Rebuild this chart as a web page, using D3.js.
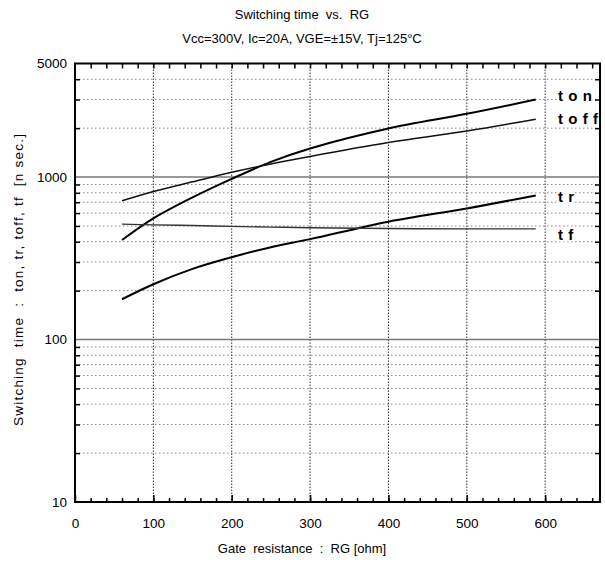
<!DOCTYPE html>
<html>
<head>
<meta charset="utf-8">
<script src="https://cdn.jsdelivr.net/npm/d3@7"></script>
<style>
  body { margin: 0; background: #fff; }
  svg { font-family: "Liberation Sans", Arial, sans-serif; }
</style>
</head>
<body>
<svg width="605" height="565"></svg>
<script>
// gate resistance [ohm] and switching times [ns]
var rg   = [60, 100, 150, 200, 250, 300, 400, 500, 588];
var ton  = [410, 557, 750, 975, 1240, 1500, 1990, 2450, 3000];
var toff = [714, 815, 935, 1070, 1205, 1340, 1630, 1920, 2270];
var tr   = [177, 219, 272, 321, 370, 415, 531, 641, 771];
var tf   = [513, 508, 503, 497, 492, 488, 482, 480, 480];

var xTicks = [0, 100, 200, 300, 400, 500, 600];
var yTicks = [10, 100, 1000, 5000];
var names  = ["ton", "toff", "tr", "tf"];

var svg = d3.select("svg");
var pLeft = 75, pRight = 600, pTop = 63.5, pBottom = 502;

var x = d3.scaleLinear().domain([0, 670]).range([pLeft, pRight]);
var y = d3.scaleLog().domain([10, 5000]).range([pBottom, pTop]);

// minor log values
var minorY = [];
[10, 100, 1000].forEach(function(d) {
    for (var k = 2; k <= 9; k++) {
        if (d * k < 5000) minorY.push(d * k);
    }
});
var minorX = d3.range(20, 670, 20);

// dotted grid
svg.append("g").selectAll("line").data(minorY).enter().append("line")
    .attr("x1", pLeft).attr("x2", pRight)
    .attr("y1", function(d) { return y(d); }).attr("y2", function(d) { return y(d); })
    .attr("stroke", "#888").attr("stroke-width", 1).attr("stroke-dasharray", "1.5,2.5");
svg.append("g").selectAll("line").data(xTicks.slice(1)).enter().append("line")
    .attr("x1", function(d) { return x(d); }).attr("x2", function(d) { return x(d); })
    .attr("y1", pTop).attr("y2", pBottom)
    .attr("stroke", "#333").attr("stroke-width", 1).attr("stroke-dasharray", "1.5,1.5");
// solid decade lines
svg.append("g").selectAll("line").data([100, 1000]).enter().append("line")
    .attr("x1", pLeft).attr("x2", pRight)
    .attr("y1", function(d) { return y(d); }).attr("y2", function(d) { return y(d); })
    .attr("stroke", "#777").attr("stroke-width", 1.6);

// curves
var line = d3.line().curve(d3.curveCatmullRom.alpha(0.5))
    .x(function(d) { return x(d[0]); })
    .y(function(d) { return y(d[1]); });
var series = [ton, toff, tr, tf];
var widths = [2, 1.5, 2, 1.4];
var colors = ["#000", "#111", "#000", "#333"];
series.forEach(function(s, i) {
    svg.append("path")
        .datum(rg.map(function(r, j) { return [r, s[j]]; }))
        .attr("fill", "none")
        .attr("stroke", colors[i])
        .attr("stroke-width", widths[i])
        .attr("d", line);
});

// ticks (inward)
svg.append("g").attr("transform", "translate(0," + pBottom + ")")
    .call(d3.axisBottom(x).tickValues(minorX).tickSize(-4).tickFormat(""));
svg.append("g").attr("transform", "translate(0," + pBottom + ")")
    .call(d3.axisBottom(x).tickValues(xTicks).tickSize(-7).tickPadding(16));
svg.append("g").attr("transform", "translate(0," + pTop + ")")
    .call(d3.axisTop(x).tickValues(minorX).tickSize(-5).tickFormat(""));
svg.append("g").attr("transform", "translate(" + pLeft + ",0)")
    .call(d3.axisLeft(y).tickValues(minorY).tickSize(-5).tickFormat(""));
svg.append("g").attr("transform", "translate(" + pLeft + ",0)")
    .call(d3.axisLeft(y).tickValues(yTicks).tickSize(0).tickPadding(8).tickFormat(d3.format("d")));
svg.append("g").attr("transform", "translate(" + pRight + ",0)")
    .call(d3.axisRight(y).tickValues(minorY).tickSize(-5).tickFormat(""));

svg.selectAll(".domain").remove();
svg.selectAll(".tick line").attr("stroke", "#000").attr("stroke-width", 1.5);
svg.selectAll(".tick text").attr("font-size", 13.5).attr("fill", "#000")
    .attr("font-family", "Liberation Sans, Arial, sans-serif");

// frame
svg.append("rect")
    .attr("x", pLeft).attr("y", pTop)
    .attr("width", pRight - pLeft).attr("height", pBottom - pTop)
    .attr("fill", "none").attr("stroke", "#000").attr("stroke-width", 2);

// curve labels on white patches
var labelY = [100.5, 124, 201.5, 239.5];
var bgLayer = svg.append("g");
var txtLayer = svg.append("g");
names.forEach(function(n, i) {
    var t = txtLayer.append("text")
        .attr("x", 558).attr("y", labelY[i])
        .attr("font-size", 15).attr("font-weight", "bold")
        .attr("letter-spacing", 5.3)
        .text(n);
    var b = t.node().getBBox();
    bgLayer.append("rect")
        .attr("x", b.x - 1).attr("y", b.y + 2)
        .attr("width", b.width - 4).attr("height", b.height - 3)
        .attr("fill", "#fff");
});

// titles
svg.append("text").attr("x", 302).attr("y", 19).attr("text-anchor", "middle")
    .attr("font-size", 13).attr("xml:space", "preserve")
    .text("Switching time  vs.  RG");
svg.append("text").attr("x", 302).attr("y", 43).attr("text-anchor", "middle")
    .attr("font-size", 13)
    .text("Vcc=300V, Ic=20A, VGE=\u00b115V, Tj=125\u00b0C");
svg.append("text").attr("x", 302).attr("y", 553).attr("text-anchor", "middle")
    .attr("font-size", 13).attr("xml:space", "preserve")
    .text("Gate  resistance  :  RG [ohm]");
svg.append("text")
    .attr("transform", "translate(23,280) rotate(-90)")
    .attr("text-anchor", "middle")
    .attr("font-size", 13.5).attr("xml:space", "preserve")
    .attr("textLength", 292).attr("lengthAdjust", "spacing")
    .text("Switching  time  :  ton, tr, toff, tf  [n sec.]");
</script>
</body>
</html>
